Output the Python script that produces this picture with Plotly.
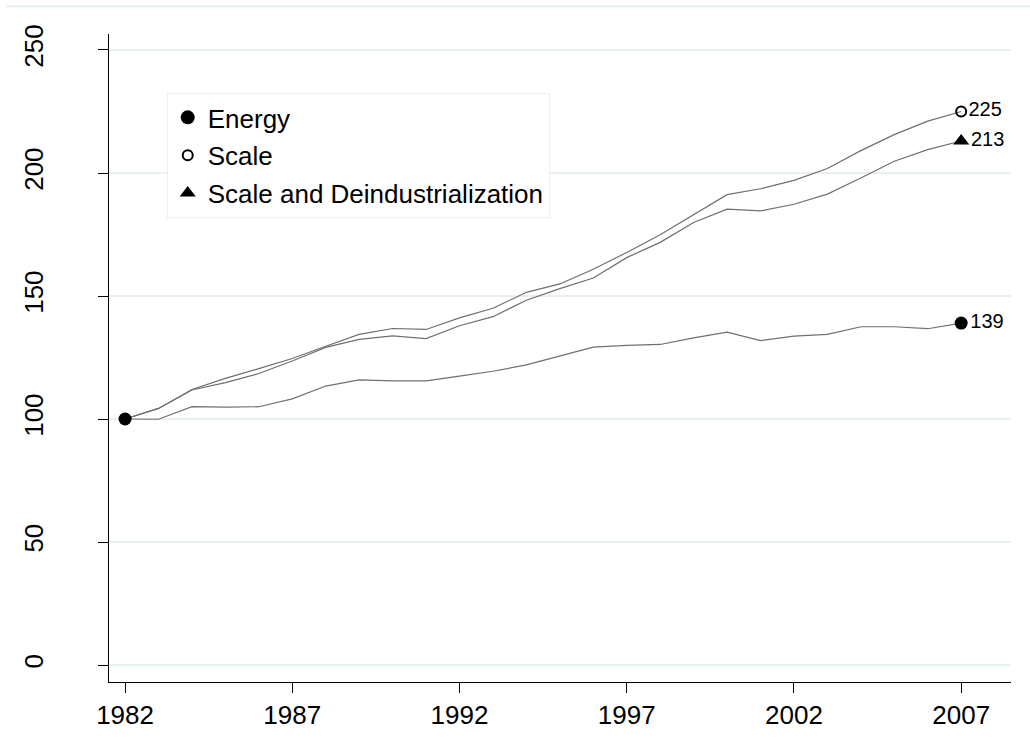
import plotly.graph_objects as go

years = list(range(1982, 2008))

energy = [100, 99.9, 105.0, 104.8, 105.0, 108.2, 113.4, 115.9, 115.5, 115.5,
          117.4, 119.4, 122.0, 125.5, 129.2, 129.9, 130.3, 133.0, 135.3, 131.9,
          133.7, 134.4, 137.5, 137.5, 136.7, 139.0]

scale = [100, 104.3, 112.0, 116.5, 120.5, 124.6, 129.6, 134.4, 136.8, 136.4,
         141.1, 145.0, 151.5, 154.9, 160.9, 167.7, 174.9, 183.2, 191.2, 193.6,
         197.0, 201.8, 209.1, 215.6, 221.1, 225.0]

scale_deind = [100, 104.3, 111.8, 114.8, 118.5, 123.6, 129.1, 132.4, 133.8, 132.7,
               137.9, 141.6, 148.3, 153.0, 157.3, 165.6, 171.8, 179.9, 185.3, 184.6,
               187.3, 191.4, 198.0, 204.8, 209.5, 213.0]

series_names = ["Energy", "Scale", "Scale and Deindustrialization"]
x_ticks = [1982, 1987, 1992, 1997, 2002, 2007]
y_ticks = [0, 50, 100, 150, 200, 250]

FONT = "Liberation Sans, Arial, sans-serif"
LINE_COLOR = "#6f6f6f"
GRID = "#e8f0f2"

fig = go.Figure()

# lines
for vals in [scale, scale_deind, energy]:
    fig.add_trace(go.Scatter(x=years, y=vals, mode="lines",
                             line=dict(color=LINE_COLOR, width=1.2),
                             showlegend=False, hoverinfo="skip"))

# end markers with labels
fig.add_trace(go.Scatter(x=[years[-1]], y=[scale[-1]], mode="markers+text",
                         marker=dict(symbol="circle-open", size=10, color="black",
                                     line=dict(width=2, color="black")),
                         text=[f"{round(scale[-1])}"], textposition="middle right",
                         textfont=dict(size=20, color="black", family=FONT),
                         showlegend=False))
fig.add_trace(go.Scatter(x=[years[-1]], y=[scale_deind[-1]], mode="markers+text",
                         marker=dict(symbol="triangle-up", size=14, color="black"),
                         text=[f"{round(scale_deind[-1])}"], textposition="middle right",
                         textfont=dict(size=20, color="black", family=FONT),
                         showlegend=False))
fig.add_trace(go.Scatter(x=[years[0], years[-1]], y=[energy[0], energy[-1]],
                         mode="markers+text",
                         marker=dict(symbol="circle", size=13, color="black"),
                         text=["", f"{round(energy[-1])}"], textposition="middle right",
                         textfont=dict(size=20, color="black", family=FONT),
                         showlegend=False))

# legend entries
leg_markers = [dict(symbol="circle", size=14, color="black"),
               dict(symbol="circle-open", size=10, color="black", line=dict(width=2, color="black")),
               dict(symbol="triangle-up", size=14, color="black")]
for i, (nm, mk) in enumerate(zip(series_names, leg_markers)):
    fig.add_trace(go.Scatter(x=[None], y=[None], mode="markers", name=nm,
                             marker=mk, legendgroup=f"g{i}", showlegend=True))

fig.add_shape(type="line", xref="paper", yref="paper",
              x0=-0.114, x1=1.03, y0=1.043, y1=1.043,
              line=dict(color=GRID, width=2))

fig.update_layout(
    width=1030, height=752,
    margin=dict(l=109, r=19, t=34, b=70),
    paper_bgcolor="white", plot_bgcolor="white",
    font=dict(family=FONT, size=26, color="black"),
    showlegend=True,
    legend=dict(x=0.064, y=0.909, xanchor="left", yanchor="top",
                bgcolor="white", bordercolor=GRID, borderwidth=1,
                font=dict(size=26, family=FONT, color="black"),
                tracegroupgap=1, itemsizing="trace", itemwidth=30),
    xaxis=dict(range=[1981.52, 2008.49], tickmode="array", tickvals=x_ticks,
               ticktext=[str(t) for t in x_ticks],
               showgrid=False, zeroline=False, showline=True, linecolor="black",
               linewidth=1.3, ticks="outside", ticklen=10, tickcolor="black",
               tickwidth=1.3, tickfont=dict(size=26, family=FONT)),
    yaxis=dict(range=[-6.9, 256.5], tickmode="array", tickvals=y_ticks,
               ticktext=[str(t) for t in y_ticks],
               showgrid=True, gridcolor=GRID, gridwidth=2, zeroline=False,
               showline=True, linecolor="black", linewidth=1.3,
               ticks="outside", ticklen=10, tickcolor="black", tickwidth=1.3,
               tickangle=-90, ticklabelstandoff=44,
               tickfont=dict(size=26, family=FONT)),
)

fig.write_html("out.html")
